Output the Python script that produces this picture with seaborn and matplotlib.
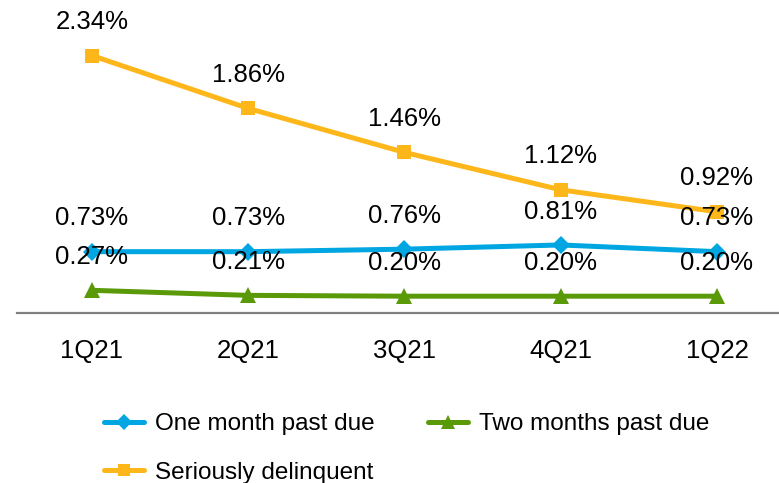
import matplotlib
matplotlib.use("Agg")
import matplotlib.pyplot as plt
from matplotlib.lines import Line2D
import seaborn as sns
import pandas as pd

quarters = ["1Q21", "2Q21", "3Q21", "4Q21", "1Q22"]
one_month = [0.73, 0.73, 0.76, 0.81, 0.73]
two_months = [0.27, 0.21, 0.20, 0.20, 0.20]
serious = [2.34, 1.86, 1.46, 1.12, 0.92]

BLUE = "#00A6E2"
GREEN = "#5A9A08"
YELLOW = "#FDB71A"

sns.set_theme(style="white")
plt.rcParams['font.family'] = ['Liberation Sans', 'DejaVu Sans']
plt.rcParams['text.color'] = 'black'

W, H = 779, 483
fig = plt.figure(figsize=(W / 100, H / 100), dpi=100)
left, right, bottom, top = 17, 779, 313, 20
ax = fig.add_axes([left / W, (H - bottom) / H, (right - left) / W, (bottom - top) / H])
ax2 = ax.twinx()

df = pd.DataFrame({"q": range(len(quarters)), "one": one_month, "two": two_months, "ser": serious})

lw = 3.6
sns.lineplot(data=df, x="q", y="ser", ax=ax, color=YELLOW, lw=lw, marker="s", markersize=10,
             markeredgewidth=0, zorder=3)
sns.lineplot(data=df, x="q", y="one", ax=ax2, color=BLUE, lw=lw, marker="D", markersize=9,
             markeredgewidth=0, zorder=3)
sns.lineplot(data=df, x="q", y="two", ax=ax2, color=GREEN, lw=lw, marker="^", markersize=11,
             markeredgewidth=0, zorder=3)

ph = bottom - top
ax.set_ylim(0, ph / 110.0)
ax2.set_ylim(0, ph / 84.0)
ax.set_xlim(-0.48, 4.397)

for a in (ax, ax2):
    for s in a.spines.values():
        s.set_visible(False)
    a.set_ylabel("")
    a.set_xlabel("")
    a.set_yticks([])
    a.grid(False)
ax.spines["bottom"].set_visible(True)
ax.spines["bottom"].set_color("#808080")
ax.spines["bottom"].set_linewidth(1.6)
ax.set_xticks(range(len(quarters)))
ax.set_xticklabels(quarters, fontsize=18.5, color="black")
ax.tick_params(axis="x", length=0, pad=19, bottom=True, labelbottom=True)
ax.patch.set_visible(False)
ax2.patch.set_visible(False)

for i in range(len(quarters)):
    ax.annotate(f"{serious[i]:.2f}%", (i, serious[i]), xytext=(0, 24), textcoords="offset points",
                ha="center", va="center", fontsize=18.5, color="black", zorder=5)
    ax2.annotate(f"{one_month[i]:.2f}%", (i, one_month[i]), xytext=(0, 24), textcoords="offset points",
                 ha="center", va="center", fontsize=18.5, color="black", zorder=5)
    ax2.annotate(f"{two_months[i]:.2f}%", (i, two_months[i]), xytext=(0, 24), textcoords="offset points",
                 ha="center", va="center", fontsize=18.5, color="black", zorder=5)

h_one = Line2D([], [], color=BLUE, lw=lw, marker="D", markersize=8, markeredgewidth=0)
h_two = Line2D([], [], color=GREEN, lw=lw, marker="^", markersize=10, markeredgewidth=0)
h_ser = Line2D([], [], color=YELLOW, lw=lw, marker="s", markersize=9, markeredgewidth=0)
# column-major fill: col 1 = one month, seriously; col 2 = two months
leg = fig.legend([h_one, h_ser, h_two], ["One month past due", "Seriously delinquent", "Two months past due"],
                 loc="upper left", bbox_to_anchor=(104 / W, (H - 413) / H),
                 ncol=2, frameon=False, borderpad=0, borderaxespad=0, handlelength=1.65,
                 handletextpad=0.45, columnspacing=2.2, labelspacing=1.1,
                 prop={"size": 17.5})
for t in leg.get_texts():
    t.set_color("black")

fig.savefig("out.png", dpi=100)
